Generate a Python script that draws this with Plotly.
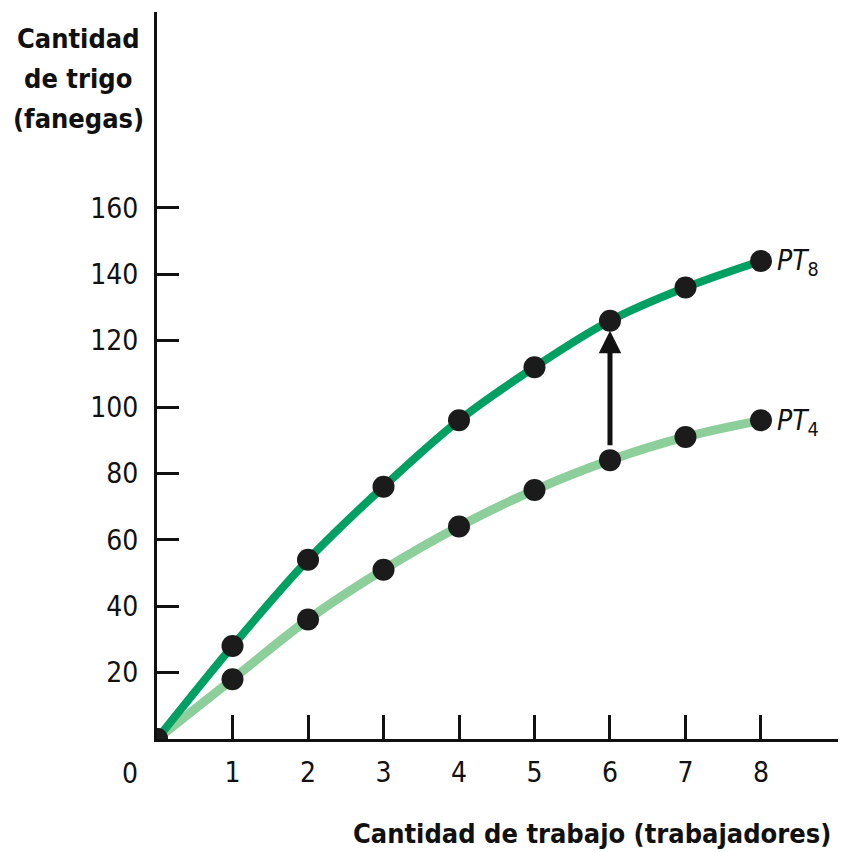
import plotly.graph_objects as go

workers = [0, 1, 2, 3, 4, 5, 6, 7, 8]
pt8 = [0, 28, 54, 76, 96, 112, 126, 136, 144]
pt4 = [0, 18, 36, 51, 64, 75, 84, 91, 96]
x_ticks = [1, 2, 3, 4, 5, 6, 7, 8]
y_ticks = [20, 40, 60, 80, 100, 120, 140, 160]
y_title_lines = ["Cantidad", "de trigo", "(fanegas)"]
x_title = "Cantidad de trabajo (trabajadores)"
arrow_x = 6
arrow_from = 88
arrow_to = 123

FONT = "DejaVu Sans Condensed, Liberation Sans Narrow, sans-serif"
DARK = "#00A062"
LIGHT = "#8DCF9A"
MARK = "#1b1b1b"
INK = "#111111"

fig = go.Figure()
fig.add_trace(go.Scatter(x=workers, y=pt4, mode="lines", line=dict(color=LIGHT, width=9, shape="spline"),
                         hoverinfo="skip", showlegend=False))
fig.add_trace(go.Scatter(x=workers, y=pt8, mode="lines", line=dict(color=DARK, width=8, shape="spline"),
                         hoverinfo="skip", showlegend=False))
fig.add_trace(go.Scatter(x=workers, y=pt4, mode="markers", marker=dict(color=MARK, size=22),
                         name="PT4", showlegend=False))
fig.add_trace(go.Scatter(x=workers, y=pt8, mode="markers", marker=dict(color=MARK, size=22),
                         name="PT8", showlegend=False))

# arrow
fig.add_annotation(x=arrow_x, y=arrow_to, ax=arrow_x, ay=arrow_from, xref="x", yref="y",
                   axref="x", ayref="y", showarrow=True, arrowhead=2, arrowsize=0.9,
                   arrowwidth=5, arrowcolor=INK, text="")

# curve labels
fig.add_annotation(x=workers[-1], y=pt8[-1], xref="x", yref="y", xanchor="left", yanchor="middle",
                   xshift=14, yshift=-2, showarrow=False,
                   text="<i>PT</i><sub>8</sub>", font=dict(family=FONT, size=28, color=INK))
fig.add_annotation(x=workers[-1], y=pt4[-1], xref="x", yref="y", xanchor="left", yanchor="middle",
                   xshift=14, yshift=-2, showarrow=False,
                   text="<i>PT</i><sub>4</sub>", font=dict(family=FONT, size=28, color=INK))

# origin label
fig.add_annotation(x=0, y=0, xref="x", yref="y", xanchor="center", yanchor="middle",
                   xshift=-27, yshift=-34, showarrow=False, text="0",
                   font=dict(family=FONT, size=28, color=INK))

# y title (three lines)
for i, line in enumerate(y_title_lines):
    fig.add_annotation(xref="paper", yref="paper", x=-0.116, y=1.0, xanchor="center", yanchor="middle",
                       yshift=-26 - 40 * i, showarrow=False, text="<b>" + line + "</b>",
                       font=dict(family=FONT, size=27, color=INK))

# x title
fig.add_annotation(xref="paper", yref="paper", x=1.0, y=0, xanchor="right", yanchor="middle",
                   xshift=-5, yshift=-94, showarrow=False,
                   text="<b>" + x_title + "</b>",
                   font=dict(family=FONT, size=27, color=INK))

fig.update_xaxes(range=[0, 9.02], tickmode="array", tickvals=x_ticks, ticktext=[str(v) for v in x_ticks],
                 ticks="inside", ticklen=24, tickwidth=2.5, tickcolor=INK,
                 showline=True, linecolor=INK, linewidth=3, showgrid=False, zeroline=False,
                 ticklabelstandoff=6,
                 tickfont=dict(family=FONT, size=28, color=INK))
fig.update_yaxes(range=[0, 219], tickmode="array", tickvals=y_ticks, ticktext=[str(v) for v in y_ticks],
                 ticks="inside", ticklen=22, tickwidth=2.5, tickcolor=INK,
                 showline=True, linecolor=INK, linewidth=3, showgrid=False, zeroline=False,
                 ticklabelstandoff=10,
                 tickfont=dict(family=FONT, size=28, color=INK))

fig.update_layout(width=841, height=852, margin=dict(l=157, r=3, t=12, b=113),
                  plot_bgcolor="white", paper_bgcolor="white", showlegend=False)

fig.write_html("out.html")
